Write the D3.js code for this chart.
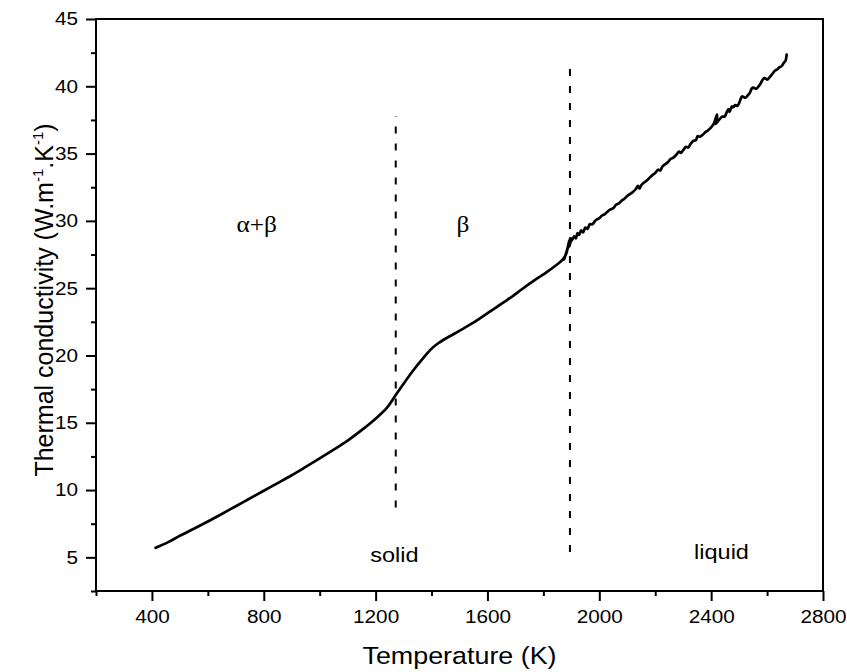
<!DOCTYPE html>
<html>
<head>
<meta charset="utf-8">
<script src="https://cdn.jsdelivr.net/npm/d3@7"></script>
<style>
  body { margin: 0; background: #fff; }
  svg { display: block; }
  text { font-family: "Liberation Sans", Arial, Helvetica, sans-serif; fill: #000; }
</style>
</head>
<body>
<div id="chart"></div>
<script>
// measured curve, temperature (K) and thermal conductivity (W/m/K)
var temperature = [
    413, 460, 500, 550, 600, 650, 700, 750, 800, 850, 900, 950, 1000, 1050, 1100, 1150, 1200, 1240, 1270,
    1300, 1335, 1370, 1395, 1420, 1454, 1485, 1514, 1545, 1573, 1603, 1633, 1663, 1693, 1722, 1752, 1782,
    1812, 1842, 1860, 1870, 1878, 1874, 1883, 1877, 1887, 1881, 1890, 1884, 1893, 1887, 1896, 1889, 1898,
    1892, 1900, 1895, 1903, 1898, 1906,
    1910, 1916, 1922, 1928, 1935, 1942, 1950, 1958, 1966, 1975, 1985,
    1990, 2000, 2010, 2020, 2030, 2040, 2050, 2060, 2070, 2080, 2090, 2100, 2110, 2120, 2130, 2138, 2144,
    2150, 2160, 2170, 2180, 2190, 2200, 2210, 2218, 2226, 2235, 2245, 2255, 2265, 2275, 2285, 2292, 2300,
    2310, 2318, 2326, 2336, 2345, 2352, 2360, 2370, 2380, 2390, 2400, 2410, 2418, 2421, 2419, 2416, 2424,
    2432, 2440, 2448, 2455, 2462, 2466, 2474, 2480, 2486, 2494, 2502, 2510, 2516, 2522, 2530, 2538, 2546,
    2552, 2560, 2568, 2578, 2586, 2592, 2600, 2610, 2620, 2628, 2636, 2644, 2652, 2660, 2666, 2670
];
var conductivity = [
    5.71, 6.15, 6.6, 7.12, 7.66, 8.22, 8.8, 9.37, 9.95, 10.52, 11.1, 11.72, 12.35, 13.0, 13.68, 14.45, 15.3, 16.1, 17.0,
    17.9, 18.9, 19.8, 20.4, 20.85, 21.3, 21.65, 22.0, 22.38, 22.76, 23.18, 23.6, 24.02, 24.45, 24.9, 25.35, 25.78,
    26.2, 26.65, 26.95, 27.15, 27.4, 27.1, 27.7, 27.3, 28.0, 27.5, 28.3, 27.7, 28.6, 27.9, 28.7, 28.05, 28.5,
    28.1, 28.6, 28.3, 28.7, 28.45, 28.7,
    28.85, 28.7, 29.1, 28.95, 29.3, 29.15, 29.5, 29.4, 29.75, 29.75, 30.0,
    30.1, 30.2, 30.4, 30.5, 30.7, 30.85, 30.95, 31.2, 31.3, 31.5, 31.65, 31.85, 32.0, 32.15, 32.35, 32.6, 32.4,
    32.65, 32.85, 33.0, 33.2, 33.4, 33.55, 33.8, 33.75, 34.05, 34.2, 34.35, 34.6, 34.7, 34.9, 35.15, 35.05, 35.25,
    35.5, 35.45, 35.7, 35.95, 36.0, 36.3, 36.25, 36.4, 36.6, 36.75, 36.95, 37.25, 37.75, 37.9, 37.4, 37.2, 37.4,
    37.6, 37.75, 37.75, 38.05, 38.3, 38.1, 38.5, 38.45, 38.6, 38.55, 38.85, 39.25, 39.2, 39.15, 39.3, 39.5, 39.85,
    39.9, 39.8, 39.95, 40.25, 40.55, 40.6, 40.5, 40.7, 40.95, 41.15, 41.25, 41.4, 41.5, 41.75, 41.9, 42.35
];

var xMajorTicks = [400, 800, 1200, 1600, 2000, 2400, 2800];
var xMinorTicks = [200, 600, 1000, 1400, 1800, 2200, 2600];
var yMajorTicks = [5, 10, 15, 20, 25, 30, 35, 40, 45];
var yMinorTicks = [2.5, 7.5, 12.5, 17.5, 22.5, 27.5, 32.5, 37.5, 42.5];

// phase boundaries (dashed): temperature, bottom and top of the line in W/m/K
var boundaryTemps = [1272, 1895];
var boundaryLow = [8.7, 5.4];
var boundaryHigh = [37.8, 41.8];

var phaseLabels = ["\u03b1+\u03b2", "\u03b2"];
var phaseLabelTemps = [775, 1512];
var phaseLabelK = [29.15, 29.15];
var stateLabels = ["solid", "liquid"];
var stateLabelTemps = [1267, 2437];
var stateLabelK = [4.65, 4.9];

var width = 847, height = 672;
var margin = {top: 19, right: 24, bottom: 81, left: 96};
var plotW = width - margin.left - margin.right;
var plotH = height - margin.top - margin.bottom;
var stretch = "scale(1.12,1)";

var svg = d3.select("#chart").append("svg")
    .attr("width", width)
    .attr("height", height);

var x = d3.scaleLinear().domain([200, 2800]).range([0, plotW]);
var y = d3.scaleLinear().domain([2.5, 45]).range([plotH, 0]);

var g = svg.append("g")
    .attr("transform", "translate(" + margin.left + "," + margin.top + ")");

// minor ticks
g.append("g")
    .attr("transform", "translate(0," + plotH + ")")
    .call(d3.axisBottom(x).tickValues(xMinorTicks).tickSize(5).tickFormat(""))
    .call(function(a) { a.select(".domain").remove(); });
g.append("g")
    .call(d3.axisLeft(y).tickValues(yMinorTicks).tickSize(5).tickFormat(""))
    .call(function(a) { a.select(".domain").remove(); });

// major ticks with labels
var xAxis = g.append("g")
    .attr("transform", "translate(0," + plotH + ")")
    .call(d3.axisBottom(x).tickValues(xMajorTicks).tickSize(10).tickPadding(9).tickFormat(d3.format("d")));
var yAxis = g.append("g")
    .call(d3.axisLeft(y).tickValues(yMajorTicks).tickSize(10).tickPadding(6).tickFormat(d3.format("d")));

[xAxis, yAxis].forEach(function(a) {
    a.select(".domain").remove();
    a.selectAll("text")
        .attr("font-size", "18.5px")
        .attr("font-family", "'Liberation Sans', Arial, sans-serif")
        .attr("transform", stretch);
});
g.selectAll(".tick line").attr("stroke", "#000").attr("stroke-width", 2);

// frame
g.append("rect")
    .attr("width", plotW)
    .attr("height", plotH)
    .attr("fill", "none")
    .attr("stroke", "#000")
    .attr("stroke-width", 2);

// dashed phase boundaries
g.selectAll(".boundary")
    .data(boundaryTemps)
    .enter().append("line")
    .attr("class", "boundary")
    .attr("x1", function(d) { return x(d); })
    .attr("x2", function(d) { return x(d); })
    .attr("y1", function(d, i) { return y(boundaryLow[i]); })
    .attr("y2", function(d, i) { return y(boundaryHigh[i]); })
    .attr("stroke", "#000")
    .attr("stroke-width", 2)
    .attr("stroke-dasharray", "7,10");

// the curve
var points = temperature.map(function(t, i) { return [t, conductivity[i]]; });
var line = d3.line()
    .x(function(d) { return x(d[0]); })
    .y(function(d) { return y(d[1]); })
    .curve(d3.curveCatmullRom.alpha(0.5));

g.append("path")
    .datum(points)
    .attr("d", line)
    .attr("fill", "none")
    .attr("stroke", "#000")
    .attr("stroke-width", 2.7)
    .attr("stroke-linejoin", "round")
    .attr("stroke-linecap", "round");

// region labels
phaseLabels.forEach(function(label, i) {
    g.append("g")
        .attr("transform", "translate(" + x(phaseLabelTemps[i]) + "," + y(phaseLabelK[i]) + ")")
        .append("text")
        .attr("transform", "scale(1.1,1)")
        .attr("text-anchor", "middle")
        .style("font-family", "'Liberation Serif', 'Times New Roman', serif")
        .attr("font-size", "23px")
        .text(label);
});
stateLabels.forEach(function(label, i) {
    g.append("g")
        .attr("transform", "translate(" + x(stateLabelTemps[i]) + "," + y(stateLabelK[i]) + ")")
        .append("text")
        .attr("transform", stretch)
        .attr("text-anchor", "middle")
        .attr("font-size", "21px")
        .text(label);
});

// axis titles
svg.append("g")
    .attr("transform", "translate(" + (margin.left + plotW / 2) + ",664)")
    .append("text")
    .attr("transform", stretch)
    .attr("text-anchor", "middle")
    .attr("font-size", "24px")
    .text("Temperature (K)");

var yTitle = svg.append("text")
    .attr("transform", "translate(53,300) rotate(-90)")
    .attr("text-anchor", "middle")
    .attr("font-size", "25px");
yTitle.append("tspan").text("Thermal conductivity (W.m");
yTitle.append("tspan").attr("font-size", "15px").attr("dy", "-10").text("-1");
yTitle.append("tspan").attr("dy", "10").text(".K");
yTitle.append("tspan").attr("font-size", "15px").attr("dy", "-10").text("-1");
yTitle.append("tspan").attr("dy", "10").text(")");
</script>
</body>
</html>
